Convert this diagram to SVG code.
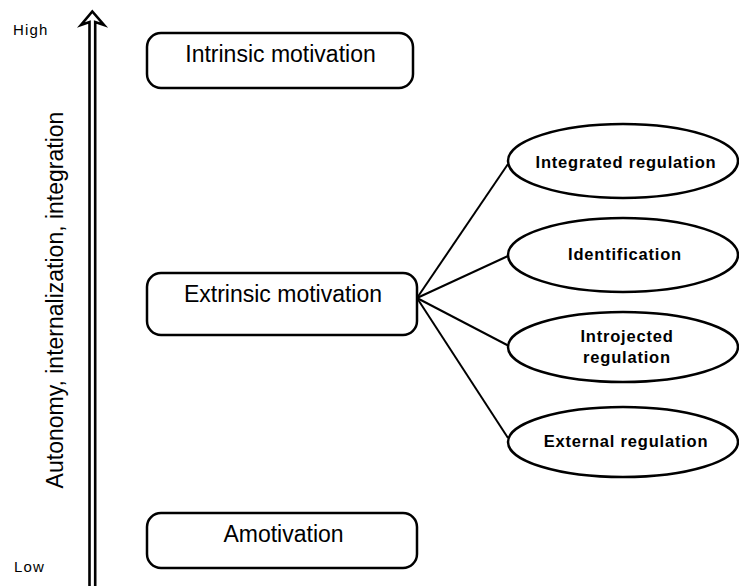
<svg xmlns="http://www.w3.org/2000/svg" width="739" height="586" viewBox="0 0 739 586">
  <style>
    .box { fill: #fff; stroke: #000; stroke-width: 2.5; }
    .oval { fill: #fff; stroke: #000; stroke-width: 2.5; }
    .link { stroke: #000; stroke-width: 2; fill: none; }
    .big { font-family: "Liberation Sans", Arial, sans-serif; font-size: 23px; fill: #000; text-anchor: middle; }
    .small { font-family: "Liberation Sans", Arial, sans-serif; font-size: 16.5px; font-weight: bold; letter-spacing: 0.8px; fill: #000; text-anchor: middle; }
    .tick { font-family: "Liberation Sans", Arial, sans-serif; font-size: 15px; letter-spacing: 1.2px; fill: #000; }
  </style>
  <rect width="739" height="586" fill="#fff"/>

  <!-- vertical axis: hollow block arrow -->
  <g id="axis">
    <path d="M89.5,592 V22 L81,25 L92.3,11.5 L104,25 L95.2,22 V592" fill="#fff" stroke="#000" stroke-width="2.6" stroke-linejoin="miter"/>
    <text class="big" transform="translate(63,300) rotate(-90)">Autonomy, internalization, integration</text>
    <text class="tick" x="13" y="35">High</text>
    <text class="tick" x="14" y="572">Low</text>
  </g>

  <!-- connectors from extrinsic motivation to its regulation styles -->
  <g id="connectors">
    <line class="link" x1="417" y1="298" x2="508" y2="164"/>
    <line class="link" x1="417" y1="298" x2="508" y2="256"/>
    <line class="link" x1="417" y1="298" x2="509" y2="346"/>
    <line class="link" x1="417" y1="298" x2="508" y2="438"/>
  </g>

  <g id="intrinsic">
    <rect class="box" x="147" y="33" width="266" height="55" rx="14"/>
    <text class="big" x="280.5" y="62">Intrinsic motivation</text>
  </g>

  <g id="extrinsic">
    <rect class="box" x="147" y="273" width="270" height="62" rx="14"/>
    <text class="big" x="283" y="302">Extrinsic motivation</text>
  </g>

  <g id="amotivation">
    <rect class="box" x="147" y="513" width="270" height="55" rx="14"/>
    <text class="big" x="283.5" y="542">Amotivation</text>
  </g>

  <g id="integrated">
    <ellipse class="oval" cx="623" cy="161" rx="115" ry="37"/>
    <text class="small" x="626" y="168">Integrated regulation</text>
  </g>

  <g id="identification">
    <ellipse class="oval" cx="623" cy="255" rx="115" ry="37"/>
    <text class="small" x="625" y="260">Identification</text>
  </g>

  <g id="introjected">
    <ellipse class="oval" cx="623" cy="347" rx="115" ry="35"/>
    <text class="small" x="627" y="342">Introjected</text>
    <text class="small" x="627" y="363">regulation</text>
  </g>

  <g id="external">
    <ellipse class="oval" cx="623" cy="442" rx="115" ry="35"/>
    <text class="small" x="626" y="447">External regulation</text>
  </g>
</svg>
